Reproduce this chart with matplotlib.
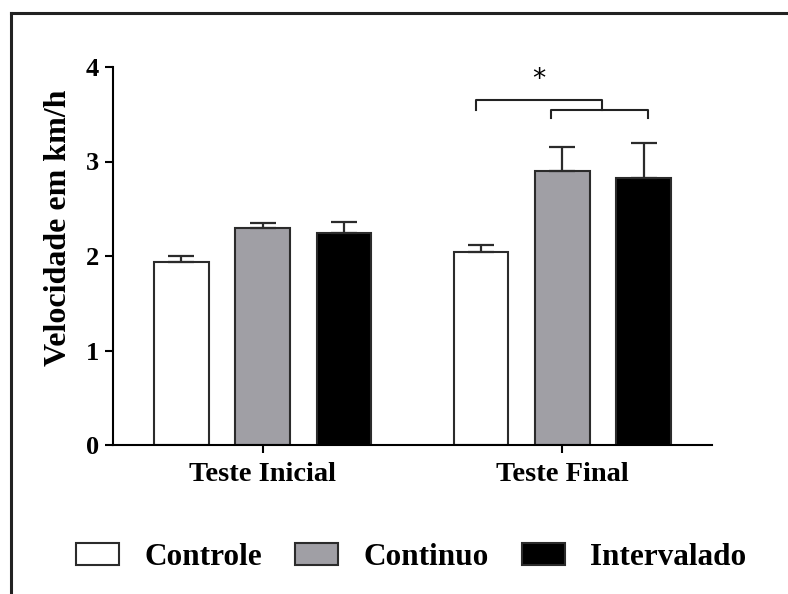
import numpy as np
import matplotlib.pyplot as plt
from matplotlib.patches import Patch
from matplotlib.lines import Line2D

plt.rcParams['font.family'] = ['Liberation Serif', 'DejaVu Serif']
plt.rcParams['font.weight'] = 'bold'

grupos = ['Teste Inicial', 'Teste Final']
series = ['Controle', 'Continuo', 'Intervalado']
cores = ['white', '#a09fa5', 'black']
medias = {
    'Controle': [1.94, 2.04],
    'Continuo': [2.30, 2.90],
    'Intervalado': [2.24, 2.83],
}
erros = {
    'Controle': [0.06, 0.08],
    'Continuo': [0.05, 0.25],
    'Intervalado': [0.12, 0.37],
}

fig = plt.figure(figsize=(7.88, 5.94), dpi=100)
ax = fig.add_axes([113/788, 1-445/594, (712-113)/788, (445-67)/594])

x = np.arange(len(grupos))
desloc = [-0.272, 0, 0.272]
larg = 0.182
for i, s in enumerate(series):
    v = np.array(medias[s])
    e = np.array(erros[s])
    ax.bar(x + desloc[i], v, larg, color=cores[i], edgecolor='#2b2b2b', linewidth=1.5,
           yerr=[np.zeros_like(e), e], capsize=9.5,
           error_kw=dict(ecolor='#2b2b2b', elinewidth=1.6, capthick=1.6), zorder=2)

ax.set_xlim(-0.5, 1.5)
ax.set_ylim(0, 4)
ax.set_yticks([0, 1, 2, 3, 4])
ax.set_xticks(x)
ax.set_xticklabels(grupos, fontsize=20.5, fontweight='bold')
ax.tick_params(axis='y', labelsize=19, width=1.5, length=6, pad=4)
ax.tick_params(axis='x', width=1.5, length=6, pad=6)
ax.set_ylabel('Velocidade em km/h', fontsize=23, fontweight='bold')
ax.yaxis.set_label_coords(-0.066, 0.575)
for sp in ['top', 'right']:
    ax.spines[sp].set_visible(False)
for sp in ['left', 'bottom']:
    ax.spines[sp].set_linewidth(1.5)

# colchetes de significancia
kw = dict(color='#222222', lw=1.5, clip_on=False)
ax.plot([0.712, 0.712, 1.134, 1.134], [3.55, 3.65, 3.65, 3.55], **kw)
ax.plot([0.963, 0.963, 1.286, 1.286], [3.457, 3.55, 3.55, 3.457], **kw)
ax.text(0.923, 3.86, '*', ha='center', va='center', fontsize=19,
        fontweight='normal', family='DejaVu Sans')

handles = [Patch(facecolor=c, edgecolor='#2b2b2b', linewidth=1.5) for c in cores]
fig.legend(handles, series, loc='center', bbox_to_anchor=(0.522, 0.061), ncol=3,
           frameon=False, handlelength=1.37, handleheight=0.69,
           handletextpad=0.82, columnspacing=1.05, prop={'weight': 'bold', 'size': 22.5})

# moldura
fig.add_artist(Line2D([10.5/788, 10.5/788], [0, 1-13/594], color='#222222', lw=2.2))
fig.add_artist(Line2D([10.5/788, 1], [1-13/594, 1-13/594], color='#222222', lw=2.2))

fig.savefig('out.png', dpi=100)
